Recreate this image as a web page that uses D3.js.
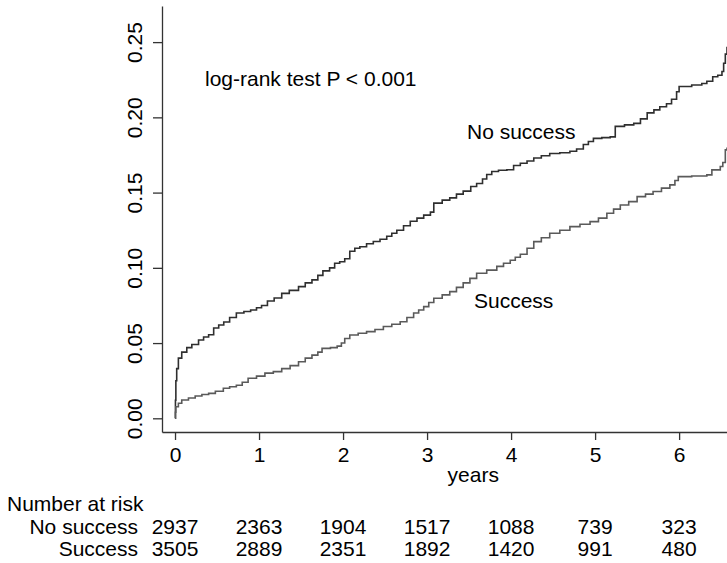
<!DOCTYPE html>
<html>
<head>
<meta charset="utf-8">
<script src="https://cdn.jsdelivr.net/npm/d3@7"></script>
<style>
  html, body { margin: 0; padding: 0; background: #fff; }
  svg { display: block; font-family: "Liberation Sans", Arial, sans-serif; }
</style>
</head>
<body>
<svg id="chart" width="727" height="563"></svg>
<script>
// Kaplan–Meier failure estimates (time in years, cumulative incidence)
const noSuccessTime = [0, 0.005, 0.01, 0.02, 0.04, 0.08, 0.14, 0.2, 0.28, 0.34, 0.40, 0.46, 0.52, 0.58, 0.65, 0.73, 0.82, 0.90, 0.97, 1.03, 1.10, 1.18, 1.27, 1.36, 1.47, 1.55, 1.63, 1.70, 1.76, 1.84, 1.90, 1.96, 2.02, 2.08, 2.14, 2.20, 2.28, 2.36, 2.44, 2.52, 2.58, 2.64, 2.72, 2.80, 2.88, 2.96, 3.04, 3.08, 3.18, 3.27, 3.35, 3.43, 3.52, 3.59, 3.66, 3.71, 3.77, 3.85, 3.95, 4.03, 4.11, 4.19, 4.27, 4.36, 4.46, 4.58, 4.70, 4.78, 4.86, 4.92, 4.98, 5.08, 5.18, 5.24, 5.35, 5.46, 5.54, 5.62, 5.70, 5.77, 5.85, 5.91, 5.97, 6.00, 6.15, 6.27, 6.33, 6.40, 6.46, 6.51, 6.53, 6.55, 6.57];
const noSuccessRisk = [0, 0.012, 0.025, 0.033, 0.040, 0.044, 0.047, 0.049, 0.052, 0.054, 0.0555, 0.060, 0.062, 0.064, 0.067, 0.070, 0.071, 0.072, 0.0735, 0.075, 0.078, 0.080, 0.083, 0.085, 0.0875, 0.090, 0.092, 0.095, 0.098, 0.100, 0.103, 0.104, 0.106, 0.111, 0.113, 0.114, 0.116, 0.1175, 0.119, 0.121, 0.123, 0.125, 0.128, 0.131, 0.133, 0.135, 0.137, 0.143, 0.145, 0.1465, 0.149, 0.151, 0.154, 0.156, 0.159, 0.162, 0.164, 0.1648, 0.1652, 0.168, 0.1695, 0.171, 0.173, 0.1745, 0.176, 0.1765, 0.1775, 0.179, 0.182, 0.184, 0.186, 0.1865, 0.187, 0.194, 0.195, 0.196, 0.199, 0.203, 0.205, 0.207, 0.209, 0.212, 0.217, 0.2205, 0.2215, 0.2225, 0.224, 0.227, 0.228, 0.2305, 0.236, 0.242, 0.247];

const successTime = [0, 0.005, 0.01, 0.04, 0.08, 0.16, 0.24, 0.32, 0.40, 0.48, 0.575, 0.65, 0.73, 0.80, 0.87, 0.97, 1.07, 1.17, 1.27, 1.37, 1.47, 1.55, 1.63, 1.70, 1.75, 1.85, 1.93, 1.98, 2.02, 2.08, 2.18, 2.28, 2.38, 2.48, 2.58, 2.68, 2.76, 2.84, 2.90, 2.96, 3.02, 3.08, 3.18, 3.27, 3.35, 3.43, 3.51, 3.59, 3.71, 3.83, 3.91, 3.99, 4.05, 4.11, 4.19, 4.27, 4.36, 4.46, 4.58, 4.70, 4.82, 4.94, 5.04, 5.14, 5.22, 5.30, 5.40, 5.50, 5.60, 5.69, 5.79, 5.89, 5.95, 5.99, 6.15, 6.33, 6.39, 6.49, 6.52, 6.55, 6.57];
const successRisk = [0, 0.004, 0.0077, 0.010, 0.0122, 0.0135, 0.0148, 0.0158, 0.0166, 0.018, 0.020, 0.021, 0.022, 0.024, 0.0266, 0.028, 0.030, 0.031, 0.033, 0.035, 0.0376, 0.040, 0.042, 0.044, 0.0465, 0.047, 0.048, 0.050, 0.053, 0.0554, 0.0565, 0.0576, 0.059, 0.061, 0.0625, 0.0642, 0.067, 0.070, 0.072, 0.0742, 0.077, 0.0798, 0.082, 0.0842, 0.087, 0.090, 0.093, 0.0964, 0.0985, 0.101, 0.103, 0.105, 0.107, 0.109, 0.113, 0.1174, 0.120, 0.123, 0.125, 0.1274, 0.129, 0.1307, 0.133, 0.1363, 0.139, 0.1418, 0.144, 0.1473, 0.149, 0.1507, 0.153, 0.1551, 0.158, 0.1606, 0.161, 0.1618, 0.1651, 0.1673, 0.170, 0.1784, 0.180];

// Axis ticks
const xTicks = [0, 1, 2, 3, 4, 5, 6];
const yTicks = [0, 0.05, 0.10, 0.15, 0.20, 0.25];

// Number-at-risk table
const groups = ["No success", "Success"];
const atRiskNoSuccess = [2937, 2363, 1904, 1517, 1088, 739, 323];
const atRiskSuccess = [3505, 2889, 2351, 1892, 1420, 991, 480];

const svg = d3.select("#chart");
const FONT = 21;

const x = d3.scaleLinear().domain([-0.155, 6.57]).range([162, 727]);
const y = d3.scaleLinear().domain([-0.0091, 0.274]).range([432, 6]);

// Y axis with vertical tick labels
const yAxis = svg.append("g")
  .attr("transform", `translate(${x.range()[0]},0)`)
  .call(d3.axisLeft(y).tickValues(yTicks).tickSize(9).tickSizeOuter(0).tickFormat(d3.format(".2f")));
yAxis.select(".domain").attr("stroke", "#333").attr("stroke-width", 1.3);
yAxis.selectAll(".tick line").attr("stroke", "#333").attr("stroke-width", 1.3);
yAxis.selectAll(".tick text")
  .attr("x", 0).attr("y", 0).attr("dy", null)
  .attr("transform", "translate(-20,0) rotate(-90)")
  .attr("text-anchor", "middle")
  .attr("font-size", FONT)
  .attr("font-family", "Liberation Sans, Arial, sans-serif")
  .attr("fill", "#000");

// X axis
const xAxis = svg.append("g")
  .attr("transform", `translate(0,${y.range()[0]})`)
  .call(d3.axisBottom(x).tickValues(xTicks).tickSize(8).tickSizeOuter(0).tickFormat(d3.format("d")));
xAxis.select(".domain").attr("stroke", "#333").attr("stroke-width", 1.3);
xAxis.selectAll(".tick line").attr("stroke", "#333").attr("stroke-width", 1.3);
xAxis.selectAll(".tick text")
  .attr("y", 30).attr("dy", null)
  .attr("font-size", FONT)
  .attr("font-family", "Liberation Sans, Arial, sans-serif")
  .attr("fill", "#000");

svg.append("text")
  .attr("x", x(3.55)).attr("y", 482)
  .attr("text-anchor", "middle")
  .attr("font-size", FONT)
  .text("years");

// Step curves
const line = d3.line()
  .x(d => x(d[0]))
  .y(d => y(d[1]))
  .curve(d3.curveStepAfter);

const curves = [
  { t: noSuccessTime, v: noSuccessRisk, color: "#2f2f2f" },
  { t: successTime, v: successRisk, color: "#5a5a5a" }
];
curves.forEach(c => {
  svg.append("path")
    .datum(c.t.map((t, i) => [t, c.v[i]]))
    .attr("fill", "none")
    .attr("stroke", c.color)
    .attr("stroke-width", 1.6)
    .attr("stroke-linejoin", "miter")
    .attr("d", line);
});

// Annotations
svg.append("text").attr("x", 205).attr("y", 86).attr("font-size", FONT)
  .text("log-rank test P < 0.001");
svg.append("text").attr("x", 467).attr("y", 139).attr("font-size", FONT)
  .text("No success");
svg.append("text").attr("x", 474).attr("y", 308).attr("font-size", FONT)
  .text("Success");

// Number at risk table
svg.append("text").attr("x", 7).attr("y", 511).attr("font-size", FONT)
  .text("Number at risk");

const rows = [atRiskNoSuccess, atRiskSuccess];
const rowY = [534, 556];
rows.forEach((vals, r) => {
  svg.append("text")
    .attr("x", 138).attr("y", rowY[r])
    .attr("text-anchor", "end")
    .attr("font-size", FONT)
    .text(groups[r]);
  svg.append("g").selectAll("text")
    .data(vals)
    .join("text")
    .attr("x", (d, i) => x(xTicks[i]))
    .attr("y", rowY[r])
    .attr("text-anchor", "middle")
    .attr("font-size", FONT)
    .text(d => d);
});
</script>
</body>
</html>
